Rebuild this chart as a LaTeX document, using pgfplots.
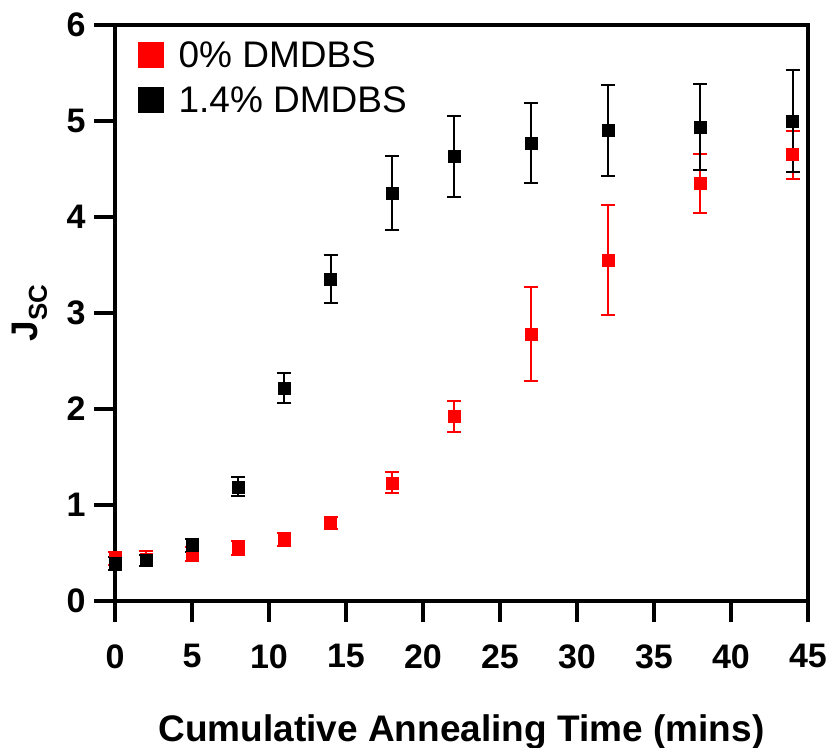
\documentclass[border=0pt]{standalone}
\usepackage{pgfplots}
\pgfplotsset{compat=1.18}
\usepackage{pgfplotstable}
\usepackage{fontspec}
\setmainfont{Liberation Sans}

\pgfplotstableread{
x y e
0 0.44 0.07
2 0.44 0.08
5 0.49 0.07
8 0.55 0.07
11 0.64 0.07
14 0.81 0.06
18 1.23 0.11
22 1.92 0.16
27 2.78 0.49
32 3.55 0.57
38 4.35 0.31
44 4.65 0.25
}\redtab

\pgfplotstableread{
x y e
0 0.39 0.07
2 0.42 0.06
5 0.58 0.07
8 1.19 0.10
11 2.22 0.16
14 3.35 0.25
18 4.25 0.39
22 4.63 0.42
27 4.77 0.42
32 4.90 0.47
38 4.94 0.45
44 5.00 0.53
}\blacktab

\begin{document}
\begin{tikzpicture}
% heavy outside tick marks (axis box has its south west corner at the origin)
\foreach \i in {0,...,9} {
  \draw[line width=4pt, black] (\i*77pt,0pt) -- (\i*77pt,-21pt);
}
\foreach \j in {0,...,6} {
  \draw[line width=4pt, black] (0pt,\j*96pt) -- (-21pt,\j*96pt);
}
\begin{axis}[
  name=ax,
  at={(0pt,0pt)}, anchor=south west,
  scale only axis, width=693pt, height=576pt,
  xmin=0, xmax=45, ymin=0, ymax=6,
  xtick={0,5,...,45}, ytick={0,1,...,6},
  axis line style={line width=4pt},
  xtick pos=bottom, ytick pos=left,
  xtick align=outside, ytick align=outside,
  major tick length=21pt,
  major tick style={line width=4pt, draw=black},
  /pgf/number format/assume math mode=true,
  ticklabel style={font=\fontsize{34}{40}\selectfont\bfseries},
  xticklabel style={yshift=-19pt},
  yticklabel style={xshift=-5pt},
  xlabel={Cumulative Annealing Time (mins)},
  ylabel={J\textsubscript{SC}},
  label style={font=\fontsize{37}{44}\selectfont\bfseries},
  xlabel style={at={(axis description cs:0.5,-0.191)}, anchor=north},
  ylabel style={at={(axis description cs:-0.093,0.5)}, anchor=south},
  clip=false,
  legend style={at={(0,1)}, anchor=north west, draw=none, fill=none,
    font=\fontsize{37}{44}\selectfont, nodes={inner sep=2pt},
    row sep=14pt,
    xshift=20pt, yshift=-12pt},
  legend cell align=left,
]
\addlegendimage{legend image code/.code={\fill[red] (0pt,-12.5pt) rectangle (25pt,12.5pt); \path (38pt,0pt);}}
\addlegendentry{0\% DMDBS}
\addlegendimage{legend image code/.code={\fill[black] (0pt,-12.5pt) rectangle (25pt,12.5pt); \path (38pt,0pt);}}
\addlegendentry{1.4\% DMDBS}

\addplot[only marks, mark=square*, mark size=6pt, mark options={draw=none, fill=red}, color=red,
  error bars/.cd, y dir=both, y explicit,
  error bar style={line width=2pt, red},
  error mark options={rotate=90, line width=2pt, mark size=7pt, red}]
  table[x=x, y=y, y error=e] {\redtab};

\addplot[only marks, mark=square*, mark size=6pt, mark options={draw=none, fill=black}, color=black,
  error bars/.cd, y dir=both, y explicit,
  error bar style={line width=2pt, black},
  error mark options={rotate=90, line width=2pt, mark size=7pt, black}]
  table[x=x, y=y, y error=e] {\blacktab};
\end{axis}
\pgfresetboundingbox
\path ([xshift=-115pt, yshift=25pt]ax.north west) rectangle ([xshift=22pt, yshift=-147pt]ax.south east);
\end{tikzpicture}
\end{document}
